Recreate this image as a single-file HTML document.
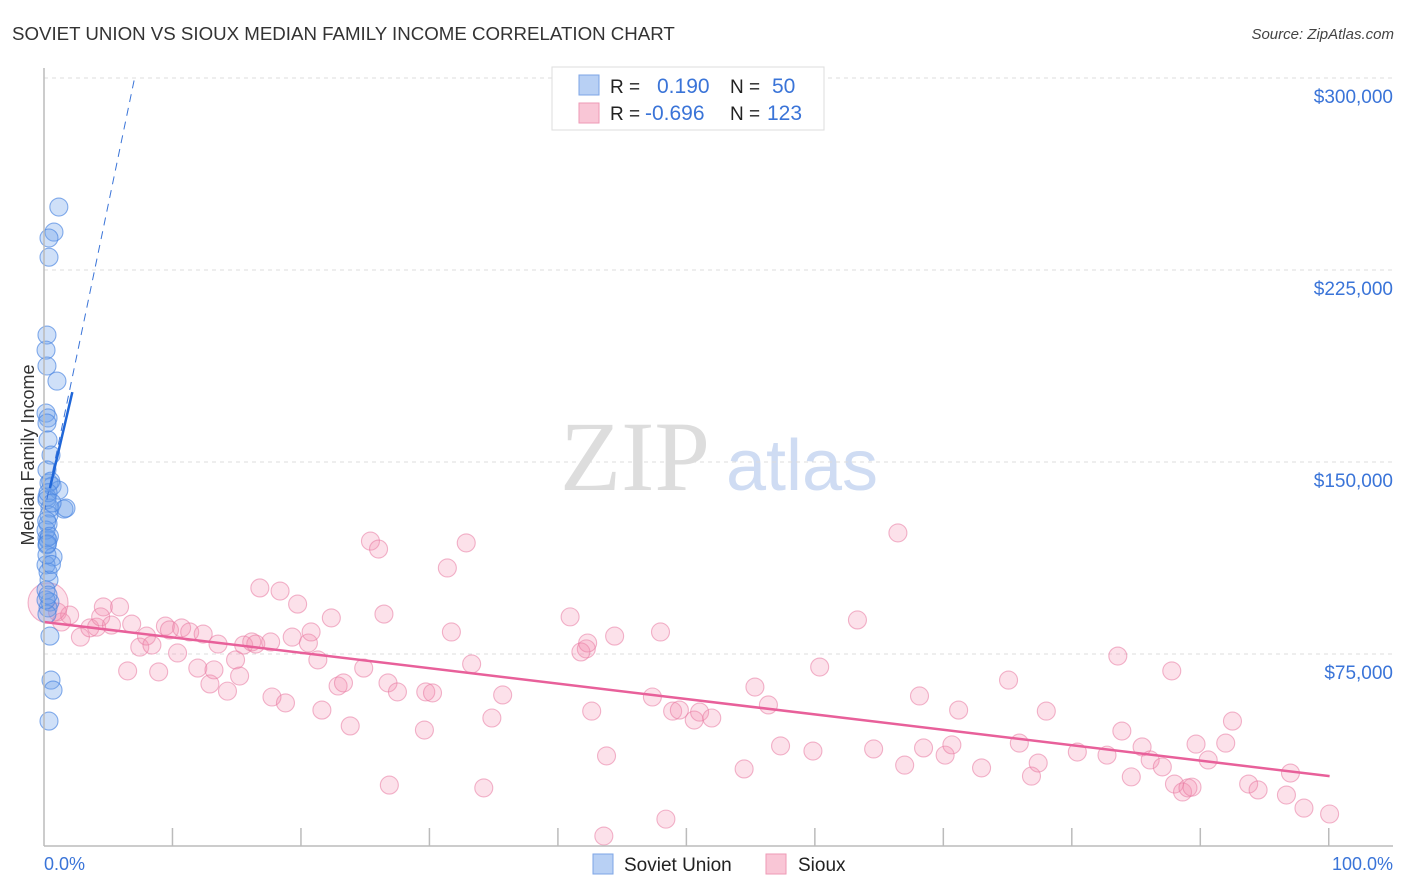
<!DOCTYPE html>
<html><head><meta charset="utf-8"><style>
body{margin:0;background:#fff;font-family:"Liberation Sans",sans-serif}
svg{display:block}
</style></head><body>
<svg id="chart" width="1406" height="892">
<text x="12" y="40" font-size="18.7" fill="#333">SOVIET UNION VS SIOUX MEDIAN FAMILY INCOME CORRELATION CHART</text>
<text x="1394" y="39" font-size="15" fill="#444" font-style="italic" text-anchor="end">Source: ZipAtlas.com</text>
<text x="635" y="490" font-size="100" fill="#ddd" font-family="Liberation Serif,serif" text-anchor="middle">ZIP</text>
<text x="802" y="490" font-size="72" fill="#cfdcf3" text-anchor="middle">atlas</text>
<text transform="translate(34,455) rotate(-90)" font-size="18" fill="#333" text-anchor="middle">Median Family Income</text>
<g id="grid"></g><g id="pts"></g><g id="lines"></g>
<line x1="44" y1="68" x2="44" y2="846" stroke="#bbb" stroke-width="1.5"/>
<line x1="44" y1="846" x2="1393" y2="846" stroke="#bbb" stroke-width="1.5"/>
<text x="44" y="870" font-size="18" fill="#3a74d8">0.0%</text>
<text x="1393" y="870" font-size="18" fill="#3a74d8" text-anchor="end">100.0%</text>
<g>
<rect x="552" y="67" width="272" height="63" fill="#fff" stroke="#ddd"/>
<rect x="579" y="75" width="20" height="20" fill="#b8d0f4" stroke="#7da5e6"/>
<rect x="579" y="103" width="20" height="20" fill="#f9c6d6" stroke="#ee9ab6"/>
<text x="610" y="93" font-size="19" fill="#222">R = <tspan fill="#3a74d8" x="657" font-size="21">0.190</tspan><tspan x="730">N =</tspan><tspan fill="#3a74d8" x="772" font-size="21">50</tspan></text>
<text x="610" y="120" font-size="19" fill="#222">R = <tspan fill="#3a74d8" x="645" font-size="21">-0.696</tspan><tspan x="730">N =</tspan><tspan fill="#3a74d8" x="767" font-size="21">123</tspan></text>
</g>
<rect x="593" y="854" width="20" height="20" fill="#b8d0f4" stroke="#7da5e6"/>
<text x="624" y="871" font-size="19" fill="#222">Soviet Union</text>
<rect x="766" y="854" width="20" height="20" fill="#f9c6d6" stroke="#ee9ab6"/>
<text x="798" y="871" font-size="19" fill="#222">Sioux</text>
</svg>
<script>
const yTicks=[75000,150000,225000,300000];
const yTickLabels=["$75,000","$150,000","$225,000","$300,000"];
const xTickCount=10.5;
const sovietX=[1.1,0.74,0.37,0.37,0.22,0.15,0.22,0.96,0.15,0.3,0.22,0.3,0.52,0.22,0.37,0.6,1.1,0.22,1.48,1.63,0.44,0.3,0.22,0.3,0.22,0.67,0.15,0.3,0.37,0.15,0.44,0.3,0.22,0.44,0.52,0.67,0.37,0.22,0.37,0.15,0.22,0.15,0.5,0.3,0.6,0.2,0.4,0.25,0.55,0.3];
const sovietY=[249.6,239.8,237.5,230,199.6,193.7,187.5,181.6,169.1,167.2,165.2,158.6,152.7,146.9,141.8,140.6,139,136.3,131.6,132,132,125.8,120.3,119.5,117.6,112.9,109.8,107,103.9,100,95.3,93,90.6,82,64.8,60.9,48.8,135.2,129.3,123.4,113.7,96.1,142.5,138,134,127,121,118,110,98];
const siouxX=[1.0,1.3,1.9,2.7,3.4,3.9,4.4,4.2,5.0,5.6,6.2,6.5,7.1,7.6,8.0,8.5,9.0,9.3,9.9,10.2,10.8,11.4,11.8,12.3,12.6,12.9,13.6,14.2,14.5,14.8,15.4,16.0,15.7,16.8,16.9,17.5,17.9,18.4,18.8,19.6,19.8,20.3,20.6,21.3,21.8,22.2,22.7,23.7,24.2,24.8,25.2,25.5,25.6,26.2,28.2,28.3,28.8,29.9,30.2,31.3,31.7,32.6,33.2,34.0,39.0,40.2,40.6,39.8,40.3,42.3,41.7,41.5,45.1,45.7,46.6,47.1,48.2,48.6,49.5,46.1,51.9,52.7,53.7,54.6,57.0,57.5,60.3,61.5,63.3,63.8,64.9,65.2,66.8,67.3,67.8,69.5,71.5,72.3,73.2,73.7,74.3,76.6,78.8,79.6,79.9,80.6,81.4,82.0,82.9,83.6,83.8,84.4,84.8,85.1,85.4,86.3,87.6,88.1,89.3,90.0,92.1,92.4,93.4,95.3,0.3];
const siouxY=[91.4,87.5,90.2,81.6,85.2,85.5,93.4,89.5,86.3,93.4,68.4,86.7,77.7,82.0,78.5,68.0,85.9,84.4,75.4,85.2,83.6,69.5,82.8,63.3,68.8,78.9,60.5,72.7,66.4,78.5,79.7,100.8,78.9,79.7,58.2,99.6,55.9,81.6,94.5,79.3,83.6,72.7,53.1,89.1,62.5,63.7,46.9,69.5,119.1,116.0,90.6,63.7,23.8,60.2,45.3,60.2,59.8,108.6,83.6,118.4,71.1,22.7,50.0,59.0,89.5,77.0,52.7,75.8,79.3,82.0,35.2,3.9,58.2,83.6,52.7,53.1,49.2,52.3,50.0,10.5,30.1,62.1,55.1,39.1,37.1,69.9,88.3,37.9,122.3,31.6,58.6,38.3,35.5,39.5,53.1,30.5,64.8,40.2,27.3,32.4,52.7,36.7,35.5,74.2,44.9,27.0,38.7,33.6,30.9,68.4,24.2,21.1,22.7,23.0,39.8,33.6,40.2,48.8,24.2,21.9,19.9,28.5,14.8,12.5,95];
const siouxTrend=[[0,87.5],[95.3,27.3]];
const sovietTrendSolid=[[0.44,139.8],[2.1,177.3]];
const sovietTrendDash=[[0.0,130],[6.7,299.6]];

const NS="http://www.w3.org/2000/svg";
const X=p=>44+p*13.49;
const Y=v=>846-v/75000*192;
const Yk=k=>Y(k*1000);
function mk(tag,attrs,parent){const e=document.createElementNS(NS,tag);for(const k in attrs)e.setAttribute(k,attrs[k]);parent.appendChild(e);return e;}
const grid=document.getElementById('grid'),pts=document.getElementById('pts'),lines=document.getElementById('lines');
yTicks.forEach((t,i)=>{
 const l=mk('line',{x1:44,x2:1393,y1:Y(t),y2:Y(t),stroke:'#ddd','stroke-dasharray':'4,4'},grid);
 
 
 const tx=mk('text',{x:1393,y:Y(t)+25,'font-size':19,fill:'#3a74d8','text-anchor':'end'},grid);
 tx.textContent=yTickLabels[i];
 
 
});
for(let i=1;i<xTickCount;i++){
 const x=X(i*100/xTickCount);
 const l=mk('line',{x1:x,x2:x,y1:828,y2:846,stroke:'#bbb','stroke-width':1.5},grid);
 
 
}
siouxX.forEach((x,i)=>{
 const c=mk('circle',{cx:X(x),cy:Yk(siouxY[i]),r:i==siouxX.length-1?20:9,fill:'rgba(242,140,172,0.26)',stroke:'rgba(232,120,160,0.55)','stroke-width':1.1},pts);
 
 
});
sovietX.forEach((x,i)=>{
 const c=mk('circle',{cx:X(x),cy:Yk(sovietY[i]),r:9,fill:'rgba(110,160,235,0.33)',stroke:'rgba(70,130,225,0.65)','stroke-width':1.1},pts);
 
 
});
let l1=mk('line',{x1:X(siouxTrend[0][0]),y1:Yk(siouxTrend[0][1]),x2:X(siouxTrend[1][0]),y2:Yk(siouxTrend[1][1]),stroke:'#e8609a','stroke-width':2.5},lines);


let l2=mk('line',{x1:X(sovietTrendDash[0][0]),y1:Yk(sovietTrendDash[0][1]),x2:X(sovietTrendDash[1][0]),y2:Yk(sovietTrendDash[1][1]),stroke:'#3a74d8','stroke-width':1,'stroke-dasharray':'8,6'},lines);


let l3=mk('line',{x1:X(sovietTrendSolid[0][0]),y1:Yk(sovietTrendSolid[0][1]),x2:X(sovietTrendSolid[1][0]),y2:Yk(sovietTrendSolid[1][1]),stroke:'#1f66d8','stroke-width':2.5},lines);


</script>
</body></html>
